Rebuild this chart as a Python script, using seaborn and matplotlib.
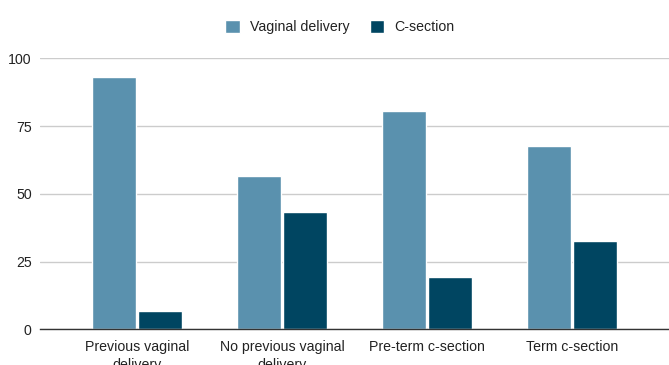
import matplotlib
matplotlib.use("Agg")
import matplotlib.pyplot as plt
import seaborn as sns
import pandas as pd

categories = ["Previous vaginal\ndelivery", "No previous vaginal\ndelivery",
              "Pre-term c-section", "Term c-section"]
vaginal = [93.1, 56.7, 80.6, 67.5]
csection = [6.9, 43.3, 19.4, 32.5]
series_names = ["Vaginal delivery", "C-section"]
yticks = [0, 25, 50, 75, 100]

df = pd.DataFrame({
    "category": categories * 2,
    "value": vaginal + csection,
    "series": [series_names[0]] * len(categories) + [series_names[1]] * len(categories),
})

sns.set_theme(style="white")
plt.rcParams["font.family"] = ["Liberation Sans", "DejaVu Sans"]

fig = plt.figure(figsize=(6.69, 3.65), dpi=100)
ax = fig.add_axes([0.0598, 0.0978, 0.9402, 0.7422])

palette = {series_names[0]: "#5A91AE", series_names[1]: "#004561"}
sns.barplot(data=df, x="category", y="value", hue="series", palette=palette,
            width=0.64, gap=0.05, ax=ax, saturation=1, legend=True)

ax.set_ylim(0, 100)
ax.set_xlim(-0.667, 3.667)
ax.set_yticks(yticks)
ax.set_yticklabels([str(t) for t in yticks], fontsize=10.2, color="#222222")
ax.tick_params(axis="x", labelsize=10.2, colors="#222222", length=0, pad=8)
ax.tick_params(axis="y", length=0, pad=6)
ax.set_xlabel("")
ax.set_ylabel("")
ax.yaxis.grid(True, color="#cccccc", linewidth=1)
ax.set_axisbelow(True)
for s in ["top", "right", "left"]:
    ax.spines[s].set_visible(False)
ax.spines["bottom"].set_color("#333333")
ax.spines["bottom"].set_linewidth(1)
ax.spines["bottom"].set_zorder(5)

for lbl in ax.get_xticklabels():
    lbl.set_linespacing(1.3)

handles, labels = ax.get_legend_handles_labels()
ax.get_legend().remove()
fig.legend(handles, labels, loc="center", bbox_to_anchor=(0.508, 0.926),
           bbox_transform=fig.transFigure, ncol=2, frameon=False,
           fontsize=10.2, handlelength=1.05, handleheight=1.05, handletextpad=0.7,
           columnspacing=1.4, labelcolor="#222222")

fig.savefig("out.png", dpi=100)
